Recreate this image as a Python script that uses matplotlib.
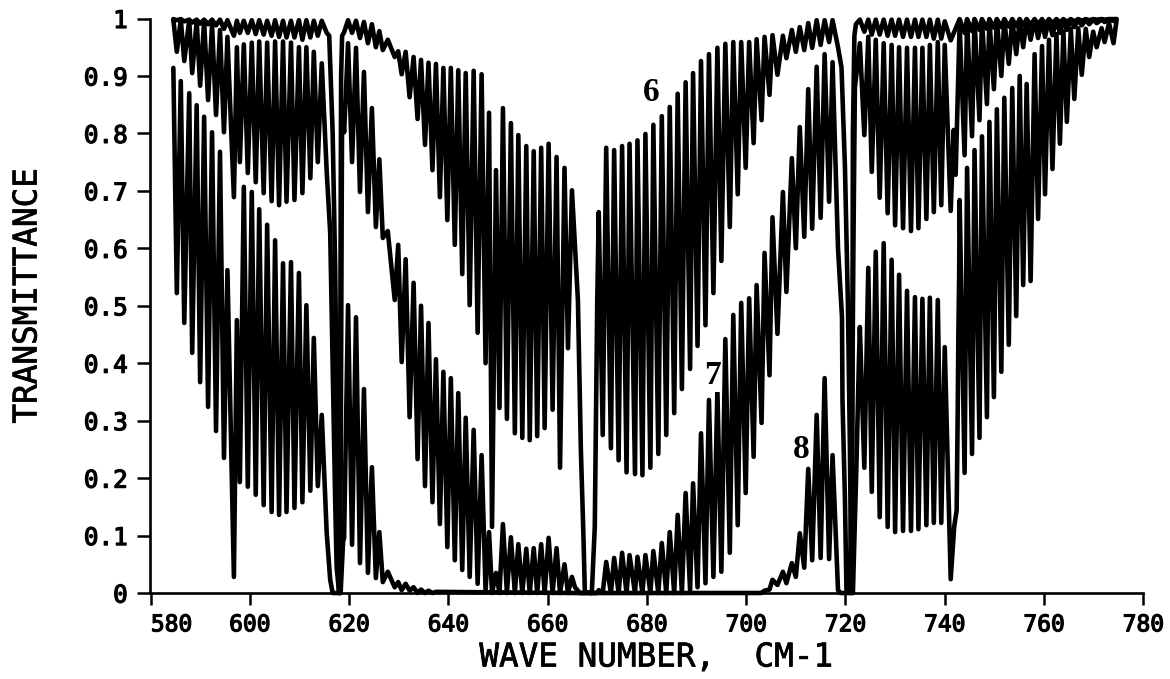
import matplotlib
matplotlib.use("Agg")
import matplotlib.pyplot as plt
import matplotlib.patheffects as pe
from matplotlib.transforms import ScaledTranslation

# Alternating line-centre (trough) and between-line (peak) wave numbers, per region
a_peak_nu = [584.6, 586.1, 587.8, 589.3, 590.8, 592.4, 594.0, 595.5, 597.4, 598.8,
             600.4, 601.9, 603.5, 605.1, 606.7, 608.3, 609.9, 611.4, 612.9, 614.5]
a_trough_nu = [585.3, 586.8, 588.4, 590.0, 591.6, 593.2, 594.8, 596.8, 598.0, 599.6,
               601.2, 602.8, 604.4, 605.9, 607.4, 609.0, 610.6, 612.2, 613.7, 615.5]
b_trough_nu = [619.0, 620.6, 622.2, 623.8, 625.4, 626.8, 629.2, 630.6, 632.2, 633.8,
               635.3, 636.8, 638.3, 639.8, 641.3, 642.8, 644.3, 645.9, 647.5, 648.8,
               650.3, 651.8, 653.4, 654.9, 656.4, 657.9, 659.4, 661.0, 662.5, 664.1]
b_peak_nu = [619.8, 621.4, 623.0, 624.6, 626.1, 627.8, 629.9, 631.4, 633.0, 634.5,
             636.0, 637.5, 639.0, 640.5, 642.0, 643.5, 645.1, 646.7, 648.2, 649.6,
             651.0, 652.6, 654.1, 655.7, 657.2, 658.7, 660.2, 661.8, 663.4, 664.9]
c_peak_nu = [670.3, 671.8, 673.4, 675.0, 676.5, 678.1, 679.7, 681.3, 683.0, 684.6,
             686.2, 687.8, 689.3, 690.9, 692.5, 694.2, 695.8, 697.4, 699.0, 700.6,
             702.1, 703.7, 705.3, 707.4, 709.2, 710.8, 712.5, 714.2, 715.8, 717.4]
c_trough_nu = [671.1, 672.75, 674.3, 675.9, 677.6, 679.1, 680.7, 682.3, 683.9, 685.5,
               687.05, 688.7, 690.2, 691.8, 693.4, 695.0, 696.7, 698.3, 699.9, 701.5,
               703.1, 704.7, 706.3, 708.1, 710.0, 711.7, 713.3, 715.0, 716.7, 718.5]
d_peak_nu = [722.9, 724.6, 726.1, 727.7, 729.3, 730.8, 732.4, 734.0, 735.5, 737.0, 738.6, 740.0]
d_trough_nu = [723.8, 725.3, 726.9, 728.5, 730.0, 731.6, 733.2, 734.7, 736.3, 737.8, 739.3, 741.2]
e_peak_nu = [743.0, 744.5, 746.0, 747.5, 749.0, 750.5, 752.0, 753.6, 755.1, 756.5, 758.1,
             759.6, 761.0, 762.5, 763.9, 765.4, 766.9, 768.4, 769.9, 771.6, 773.1, 774.6]
e_trough_nu = [744.0, 745.5, 747.0, 748.5, 749.9, 751.4, 752.9, 754.4, 755.8, 757.3, 758.8,
               760.2, 761.7, 763.2, 764.6, 766.1, 767.6, 769.1, 770.6, 772.2, 774.0]

# Curve 6
c6_a_peak = [.999, .999, .998, .998, .998, .998, .998, .997, .996, .996,
             .997, .997, .996, .997, .996, .996, .997, .997, .996, .996]
c6_a_trough = [.997, .995, .993, .991, .99, .988, .982, .97, .975, .975,
               .973, .972, .97, .968, .967, .967, .963, .967, .97, .975]
c6_ab_nu = [616.0, 616.7, 617.2, 617.5, 617.8, 618.0, 618.15, 618.3, 618.4, 618.6]
c6_ab_t = [.97, .80, .567, .336, .045, 0, .2, .6, .9, .97]
c6_b_trough = [.976, .975, .966, .957, .95, .945, .933, .903, .863, .825,
               .78, .736, .689, .649, .606, .555, .501, .453, .40, .115,
               .322, .303, .278, .27, .266, .273, .287, .319, .218, .426]
c6_b_peak = [.997, .996, .994, .99, .978, .963, .943, .942, .933, .928,
             .923, .921, .914, .914, .91, .905, .909, .903, .836, .736,
             .844, .818, .797, .778, .769, .775, .782, .759, .74, .701]
c6_bc_nu = [665.8, 666.1, 666.7, 667.2, 667.5, 668.65, 668.9, 669.5, 669.7, 670.0]
c6_bc_t = [.557, .51, .249, .104, .002, 0, 0, .115, .278, .51]
c6_c_peak = [.663, .775, .771, .778, .782, .788, .799, .815, .83, .846,
             .869, .889, .905, .926, .938, .949, .956, .959, .959, .959,
             .964, .968, .971, .97, .98, .985, .992, .997, .997, .997]
c6_c_trough = [.275, .252, .231, .21, .207, .205, .218, .242, .275, .313,
               .355, .39, .43, .466, .522, .578, .637, .694, .74, .783,
               .823, .867, .902, .931, .942, .945, .949, .954, .959, .95]
c6_cd_nu = [719.2, 719.9, 720.5, 720.9, 721.15, 721.3, 721.4, 721.5, 721.8, 722.1]
c6_cd_t = [.915, .741, .5, .25, .03, 0, .4, .8, .97, .99]
c6_d_peak = [.998, .998, .998, .998, .998, .998, .998, .998, .998, .998, .998, .995]
c6_d_trough = [.977, .972, .972, .97, .97, .968, .968, .968, .968, .965, .965, .962]
c6_e_peak = [.999, .999, .999, .999, .999, .999, .999, .999, .999, .999, .999,
             .999, .999, .999, .999, .999, .999, .999, .999, .999, .999, .999]
c6_e_trough = [.975, .978, .98, .982, .984, .985, .986, .987, .988, .989, .99,
               .99, .992, .993, .994, .995, .996, .997, .998, .998, .999]

# Curve 7
c7_a_peak = [.998, .998, .997, .996, .995, .99, .98, .968, .95, .955,
             .958, .96, .958, .96, .96, .958, .95, .95, .942, .922]
c7_a_trough = [.942, .926, .905, .883, .858, .832, .802, .689, .75, .731,
               .715, .696, .682, .675, .681, .684, .696, .722, .75, .733]
c7_ab_nu = [616.2, 616.7, 617.2, 617.5, 618.0, 618.2, 618.35, 618.6]
c7_ab_t = [.627, .393, .162, .045, 0, 0, .3, .85]
c7_b_trough = [.802, .75, .698, .663, .637, .618, .51, .402, .306, .233,
               .186, .158, .12, .08, .057, .04, .028, .016, .005, 0,
               0, 0, 0, 0, 0, 0, 0, 0, 0, 0]
c7_b_peak = [.957, .949, .907, .844, .755, .63, .606, .581, .54, .50,
             .47, .407, .385, .374, .348, .305, .284, .24, .106, .035,
             .12, .097, .085, .077, .078, .085, .096, .078, .05, .028]
c7_bc_nu = [665.5, 666.5, 670.0]
c7_bc_t = [.01, 0, 0]
c7_c_peak = [.005, .054, .061, .07, .066, .063, .066, .073, .087, .106,
             .136, .174, .191, .278, .336, .353, .442, .484, .505, .513,
             .536, .592, .654, .698, .757, .811, .877, .916, .938, .924]
c7_c_trough = [0, 0, 0, 0, 0, 0, 0, 0, 0, 0,
               0, .005, .01, .017, .028, .037, .07, .118, .174, .237,
               .296, .379, .451, .524, .60, .62, .634, .653, .681, .60]
c7_cd_nu = [719.3, 719.4, 719.9, 720.2, 720.9, 721.3, 721.6, 721.9]
c7_cd_t = [.48, .336, .162, .005, 0, .25, .6, .88]
c7_d_peak = [.957, .968, .963, .957, .954, .95, .949, .949, .949, .954, .959, .954]
c7_d_trough = [.797, .733, .688, .661, .64, .635, .63, .635, .651, .663, .675, .665]
c7_de_nu = [741.8, 742.2]
c7_de_t = [.806, .728]
c7_e_peak = [.99, .998, .998, .998, .998, .998, .998, .998, .998, .998, .998,
             .998, .998, .998, .998, .998, .998, .998, .998, .998, .998, .999]
c7_e_trough = [.762, .795, .823, .851, .877, .90, .921, .938, .95, .963, .966,
               .968, .971, .975, .98, .985, .988, .99, .992, .994, .996]

# Curve 8
c8_a_peak = [.914, .891, .870, .849, .829, .802, .768, .562, .475, .707,
             .698, .668, .641, .614, .574, .576, .557, .501, .444, .310]
c8_a_trough = [.522, .470, .418, .367, .324, .282, .235, .028, .193, .185,
               .171, .153, .141, .136, .141, .148, .158, .178, .186, .104]
c8_ab_nu = [616.2, 616.7, 618.3, 618.8]
c8_ab_t = [.023, 0, 0, .09]
c8_b_trough = [.096, .084, .052, .035, .026, .019, .01, .005, .004, 0, 0, 0]
c8_b_peak = [.501, .48, .355, .219, .106, .037, .019, .016, .01, .006, .004, .002]
c8_bc_nu = [666.0, 703.0]
c8_bc_t = [0, 0]
c8_c_peak = [.004, .023, .037, .052, .104, .216, .31, .374, .24]
c8_c_trough = [.006, .014, .017, .028, .044, .057, .061, .059, .005]
c8_cd_nu = [719.0, 721.5, 722.2, 722.7]
c8_cd_t = [0, 0, .22, .40]
c8_d_peak = [.463, .566, .594, .609, .58, .554, .526, .515, .512, .514, .51, .428]
c8_d_trough = [.218, .176, .132, .115, .106, .108, .108, .111, .118, .122, .122, .024]
c8_de_nu = [741.9, 742.4, 742.6, 742.75, 742.9]
c8_de_t = [.115, .144, .306, .452, .55]
c8_e_peak = [.684, .74, .771, .795, .82, .842, .862, .879, .90, .886, .938,
             .952, .963, .973, .978, .982, .983, .982, .977, .983, .992, .996]
c8_e_trough = [.209, .242, .27, .306, .341, .385, .432, .482, .536, .543, .651,
               .694, .738, .782, .82, .86, .902, .933, .95, .959, .957]

x_ticks = [580, 600, 620, 640, 660, 680, 700, 720, 740, 760, 780]
y_ticks = [0, .1, .2, .3, .4, .5, .6, .7, .8, .9, 1]
y_labels = ['0', '0.1', '0.2', '0.3', '0.4', '0.5', '0.6', '0.7', '0.8', '0.9', '1']
curve_labels = ['6', '7', '8']
label_nu = [680.8, 693.3, 711.0]
label_t = [.872, .378, .25]


def weave(nu1, v1, nu2, v2):
    """Alternate two value lists, taking the grid entries aligned to the list ends."""
    nu1, nu2 = nu1[-len(v1):], nu2[-len(v2):]
    xs, ys = [], []
    for i in range(max(len(v1), len(v2))):
        if i < len(v1):
            xs.append(nu1[i]); ys.append(v1[i])
        if i < len(v2):
            xs.append(nu2[i]); ys.append(v2[i])
    return xs, ys


def head_weave(nu1, v1, nu2, v2):
    """Same, with the lists aligned to the start of the grid."""
    return weave(nu1[:len(v1)], v1, nu2[:len(v2)], v2)


def build(parts):
    xs, ys = [], []
    for px, py in parts:
        xs += list(px); ys += list(py)
    return xs, ys


curve6 = build([
    weave(a_peak_nu, c6_a_peak, a_trough_nu, c6_a_trough), (c6_ab_nu, c6_ab_t),
    weave(b_trough_nu, c6_b_trough, b_peak_nu, c6_b_peak), (c6_bc_nu, c6_bc_t),
    weave(c_peak_nu, c6_c_peak, c_trough_nu, c6_c_trough), (c6_cd_nu, c6_cd_t),
    weave(d_peak_nu, c6_d_peak, d_trough_nu, c6_d_trough),
    weave(e_peak_nu, c6_e_peak, e_trough_nu, c6_e_trough)])
curve7 = build([
    weave(a_peak_nu, c7_a_peak, a_trough_nu, c7_a_trough), (c7_ab_nu, c7_ab_t),
    weave(b_trough_nu, c7_b_trough, b_peak_nu, c7_b_peak), (c7_bc_nu, c7_bc_t),
    weave(c_peak_nu, c7_c_peak, c_trough_nu, c7_c_trough), (c7_cd_nu, c7_cd_t),
    weave(d_peak_nu, c7_d_peak, d_trough_nu, c7_d_trough), (c7_de_nu, c7_de_t),
    weave(e_peak_nu, c7_e_peak, e_trough_nu, c7_e_trough)])
curve8 = build([
    weave(a_peak_nu, c8_a_peak, a_trough_nu, c8_a_trough), (c8_ab_nu, c8_ab_t),
    head_weave(b_trough_nu, c8_b_trough, b_peak_nu, c8_b_peak), (c8_bc_nu, c8_bc_t),
    weave(c_peak_nu, c8_c_peak, c_trough_nu, c8_c_trough), (c8_cd_nu, c8_cd_t),
    weave(d_peak_nu, c8_d_peak, d_trough_nu, c8_d_trough), (c8_de_nu, c8_de_t),
    weave(e_peak_nu, c8_e_peak, e_trough_nu, c8_e_trough)])

W, H = 1170, 679
fig = plt.figure(figsize=(W / 100, H / 100), dpi=100, facecolor='white')
ax = fig.add_axes([150.5 / W, 1 - 593 / H, (1143.3 - 150.5) / W, (593 - 18.5) / H])

for (xs, ys) in (curve6, curve7, curve8):
    ax.plot(xs, ys, color='black', lw=3.3, solid_joinstyle='round',
            solid_capstyle='round', clip_on=False)

ax.set_xlim(580, 780)
ax.set_ylim(0, 1)
ax.spines['top'].set_visible(False)
ax.spines['right'].set_visible(False)
for s in ('left', 'bottom'):
    ax.spines[s].set_linewidth(1.9)

mono = 'DejaVu Sans Mono'
heavy = [pe.withStroke(linewidth=0.9, foreground='black')]
ax.set_xticks(x_ticks)
ax.set_xticklabels([str(v) for v in x_ticks], family=mono, fontsize=16.5, path_effects=heavy)
ax.set_yticks(y_ticks)
ax.set_yticklabels(y_labels, family=mono, fontsize=17.5, path_effects=heavy)
ax.tick_params(axis='x', length=8.6, width=1.8, pad=6)
ax.tick_params(axis='y', length=9.4, width=1.8, pad=7)
first = ax.get_xticklabels()[0]
first.set_transform(first.get_transform() + ScaledTranslation(21 / 100, 0, fig.dpi_scale_trans))

for txt, nu, t in zip(curve_labels, label_nu, label_t):
    ax.text(nu, t, txt, family='Liberation Serif', fontweight='bold', fontsize=24,
            ha='center', va='center', color='black',
            bbox=dict(facecolor='white', edgecolor='none', pad=0.5) if txt == '7' else None)

thin = [pe.withStroke(linewidth=0.5, foreground='black')]
fig.text(656 / W, 1 - 657 / H, 'WAVE NUMBER,  CM-1', family=mono, fontsize=23.5,
         ha='center', va='center', path_effects=thin)
fig.text(27 / W, 1 - 296 / H, 'TRANSMITTANCE', family=mono, fontsize=23.5,
         rotation=90, ha='center', va='center', path_effects=thin)

fig.savefig('out.png', dpi=100, facecolor='white')
